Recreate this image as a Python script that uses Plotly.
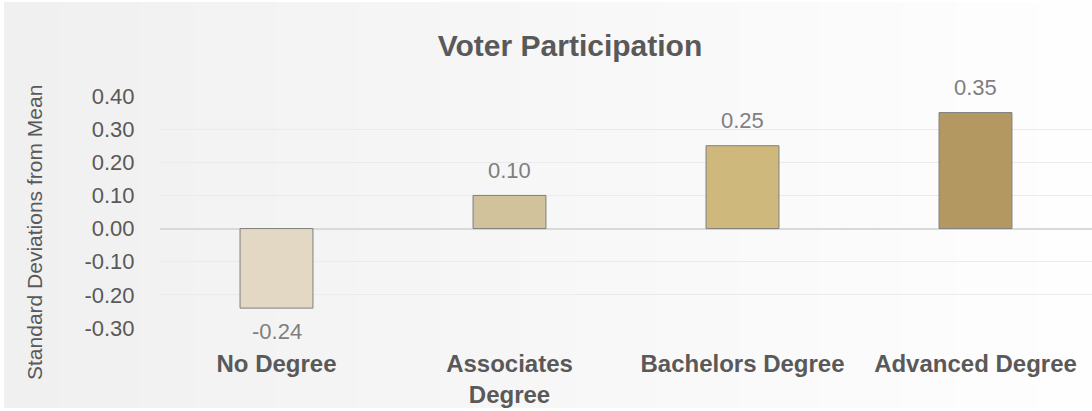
import plotly.graph_objects as go

categories = ["No Degree", "Associates<br>Degree", "Bachelors Degree", "Advanced Degree"]
values = [-0.24, 0.10, 0.25, 0.35]
bar_colors = ["#E2D8C3", "#D1C29C", "#CFB87C", "#B39861"]
y_ticks = [0.4, 0.3, 0.2, 0.1, 0.0, -0.1, -0.2, -0.3]
y_tick_labels = ["0.40", "0.30", "0.20", "0.10", "0.00", "-0.10", "-0.20", "-0.30"]

W, H = 1092, 411
L, R, T, B = 160, 0, 96, 83
PW, PH = W - L - R, H - T - B

def px_x(px):
    return (px - L) / PW

def px_y(py):
    return (H - B - py) / PH

fig = go.Figure()
fig.add_trace(go.Bar(
    x=categories, y=values,
    marker=dict(color=bar_colors, line=dict(color="#7F7F7F", width=1)),
    cliponaxis=False,
    width=0.313,
))

# data labels
annotations = []
for c, v in zip(categories, values):
    annotations.append(dict(
        x=c, y=v, xref="x", yref="y", text=f"{v:.2f}", showarrow=False,
        yanchor="middle", yshift=25 if v >= 0 else -23,
        font=dict(size=22, color="#7F7F7F", family="Liberation Sans, Arial"),
    ))
# y-axis title
annotations.append(dict(
    x=px_x(35), y=px_y(233), xref="paper", yref="paper",
    text="Standard Deviations from Mean", textangle=-90, showarrow=False,
    xanchor="center", yanchor="middle",
    font=dict(size=21, color="#595959", family="Liberation Sans, Arial"),
))

# background gradient (left gray -> right white) inside a thin white border
shapes = []
n = 40
left_px, right_px = 4, W
for i in range(n):
    t = i / (n - 1)
    c = int(round(0xF0 + (0xFE - 0xF0) * t))
    col = f"rgb({c},{c},{c})"
    a = left_px + (right_px - left_px) * i / n
    b = left_px + (right_px - left_px) * (i + 1) / n + 1
    shapes.append(dict(
        type="rect", xref="paper", yref="paper", layer="below",
        x0=px_x(a), x1=px_x(b), y0=px_y(408), y1=px_y(2),
        fillcolor=col, line=dict(width=0),
    ))

fig.update_layout(
    width=W, height=H,
    margin=dict(l=L, r=R, t=T, b=B),
    paper_bgcolor="white",
    plot_bgcolor="rgba(0,0,0,0)",
    shapes=shapes,
    annotations=annotations,
    showlegend=False,
    font=dict(family="Liberation Sans, Arial", color="#595959"),
    title=dict(
        text="<b>Voter Participation</b>",
        x=570 / W, xanchor="center", y=1 - 45 / H, yanchor="middle",
        font=dict(size=30, color="#595959"),
    ),
    xaxis=dict(
        showgrid=False, zeroline=False, showline=False,
        ticks="outside", ticklen=14, tickcolor="rgba(0,0,0,0)",
        tickfont=dict(size=24, color="#595959"),
        tickprefix="<b>", ticksuffix="</b>",
        fixedrange=True,
    ),
    yaxis=dict(
        range=[-0.3, 0.4],
        tickvals=y_ticks, ticktext=y_tick_labels,
        tickfont=dict(size=22, color="#595959"),
        ticks="outside", ticklen=20, tickcolor="rgba(0,0,0,0)",
        showgrid=True, gridcolor="#EBEBEB", gridwidth=1,
        zeroline=True, zerolinecolor="#D9D9D9", zerolinewidth=2,
        fixedrange=True,
    ),
    bargap=0.687,
)

fig.write_html("out.html", config={"displayModeBar": False},
               post_script="document.body.style.margin='0';")
